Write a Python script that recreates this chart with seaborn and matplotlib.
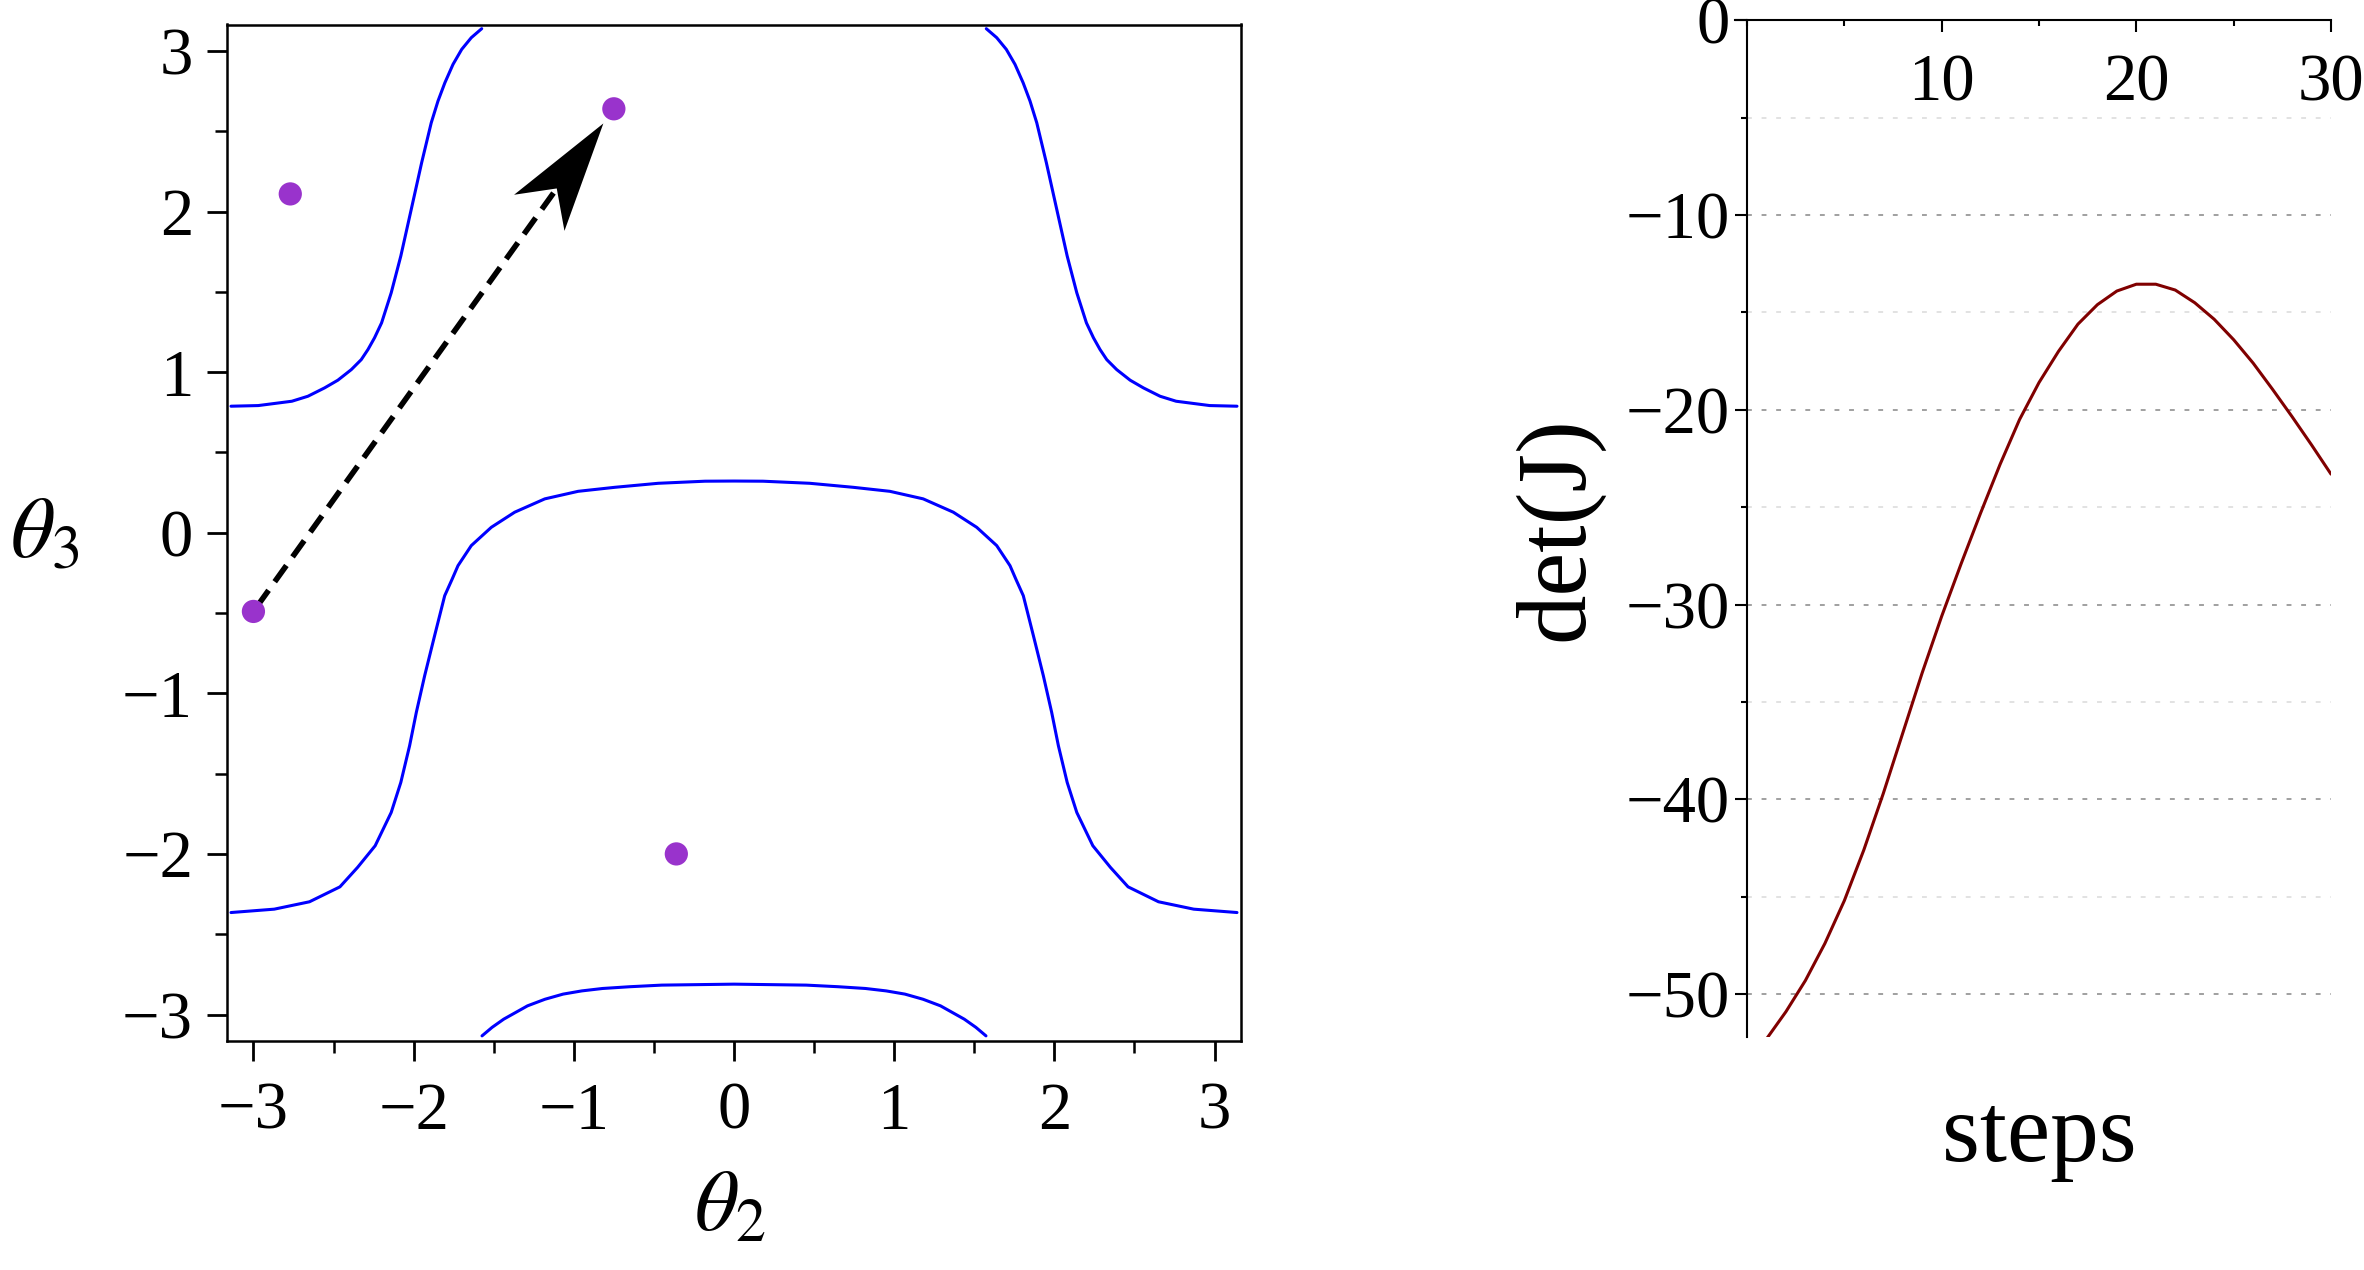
import numpy as np
import matplotlib
matplotlib.use("Agg")
import matplotlib.pyplot as plt
from matplotlib.ticker import MultipleLocator
import seaborn as sns

# ---------------- left panel: det(J)=0 curves in the (theta2, theta3) plane
top_left_t2 = [-3.14, -2.97, -2.76, -2.66, -2.556, -2.473, -2.389, -2.327, -2.285, -2.244, -2.20, -2.14,
               -2.08, -2.015, -1.95, -1.89, -1.848, -1.805, -1.754, -1.70, -1.64, -1.575]
top_left_t3 = [0.788, 0.792, 0.819, 0.85, 0.902, 0.95, 1.016, 1.078, 1.141, 1.214, 1.307, 1.494,
               1.723, 2.013, 2.304, 2.553, 2.688, 2.802, 2.917, 3.010, 3.083, 3.139]

top_right_t2 = [1.575, 1.64, 1.70, 1.754, 1.805, 1.848, 1.89, 1.95, 2.015, 2.08, 2.14, 2.20, 2.244,
                2.285, 2.327, 2.389, 2.473, 2.556, 2.66, 2.76, 2.97, 3.14]
top_right_t3 = [3.139, 3.083, 3.010, 2.917, 2.802, 2.688, 2.553, 2.304, 2.013, 1.723, 1.494, 1.307, 1.214,
                1.141, 1.078, 1.016, 0.95, 0.902, 0.85, 0.819, 0.792, 0.788]

mid_t2 = [-3.14, -2.87, -2.65, -2.46, -2.35, -2.24, -2.14, -2.08, -2.025, -1.983, -1.931, -1.869, -1.806,
          -1.76, -1.723, -1.64, -1.515, -1.369, -1.181, -0.973, -0.744, -0.473, -0.181, 0.0,
          0.181, 0.473, 0.744, 0.973, 1.181, 1.369, 1.515, 1.64, 1.723, 1.76, 1.806, 1.869, 1.931,
          1.983, 2.025, 2.08, 2.14, 2.24, 2.35, 2.46, 2.65, 2.87, 3.14]
mid_t3 = [-2.365, -2.344, -2.298, -2.205, -2.084, -1.949, -1.742, -1.555, -1.326, -1.118, -0.890, -0.641, -0.392,
          -0.29, -0.205, -0.080, 0.034, 0.128, 0.211, 0.258, 0.283, 0.308, 0.321, 0.322,
          0.321, 0.308, 0.283, 0.258, 0.211, 0.128, 0.034, -0.080, -0.205, -0.29, -0.392, -0.641, -0.890,
          -1.118, -1.326, -1.555, -1.742, -1.949, -2.084, -2.205, -2.298, -2.344, -2.365]

bottom_t2 = [-1.573, -1.51, -1.4375, -1.289, -1.18, -1.067, -0.95, -0.821, -0.65, -0.451, 0.0,
             0.451, 0.65, 0.821, 0.95, 1.067, 1.18, 1.289, 1.4375, 1.51, 1.573]
bottom_t3 = [-3.133, -3.08, -3.029, -2.946, -2.905, -2.873, -2.853, -2.838, -2.827, -2.817, -2.811,
             -2.817, -2.827, -2.838, -2.853, -2.873, -2.905, -2.946, -3.029, -3.08, -3.133]

# configurations (start of the path is the first, its end the third)
dot_t2 = [-3.0, -2.77, -0.75, -0.36]
dot_t3 = [-0.49, 2.11, 2.64, -2.0]

# ---------------- right panel: det(J) along the path
steps = list(range(1, 31))
detj = [-52.3, -50.9, -49.3, -47.4, -45.2, -42.6, -39.7, -36.6, -33.5, -30.6,
        -27.9, -25.3, -22.8, -20.5, -18.6, -17.0, -15.6, -14.6, -13.9, -13.55,
        -13.55, -13.85, -14.5, -15.35, -16.4, -17.6, -18.95, -20.35, -21.8, -23.3]

sns.set_theme(style="ticks")
plt.rcParams["font.family"] = ["Liberation Serif", "DejaVu Serif"]
plt.rcParams["mathtext.fontset"] = "stix"
plt.rcParams["axes.edgecolor"] = "black"
plt.rcParams["xtick.color"] = "black"
plt.rcParams["ytick.color"] = "black"
plt.rcParams["text.color"] = "black"
plt.rcParams["axes.labelcolor"] = "black"
plt.rcParams["axes.unicode_minus"] = True

W, H = 2364, 1270
fig = plt.figure(figsize=(W / 100, H / 100), dpi=100)
ax1 = fig.add_axes([227 / W, 1 - 1041 / H, 1014 / W, 1016.5 / H])
ax2 = fig.add_axes([1747 / W, 1 - 1037 / H, 584 / W, 1016.7 / H])

# ---- left
for xs, ys in [(top_left_t2, top_left_t3), (top_right_t2, top_right_t3),
               (mid_t2, mid_t3), (bottom_t2, bottom_t3)]:
    sns.lineplot(x=xs, y=ys, ax=ax1, sort=False, estimator=None, color="#0000ff", lw=2.2)

lim = 3.165
ax1.set_xlim(-lim, lim)
ax1.set_ylim(-lim, lim)

# dashed arrow from first to third configuration, stealth-like head
p0 = ax1.transData.transform((dot_t2[0], dot_t3[0]))
p1 = ax1.transData.transform((dot_t2[2], dot_t3[2]))
u = (p1 - p0) / np.hypot(*(p1 - p0))
n = np.array([-u[1], u[0]])
tip = p1 - 18 * u
notch = tip - 80 * u
head = np.array([tip, tip - 110 * u + 31 * n, notch, tip - 110 * u - 31 * n])
inv = ax1.transData.inverted()
head_d = inv.transform(head)
shaft = inv.transform(np.array([p0 + 6 * u, notch + 4 * u]))
ax1.plot(shaft[:, 0], shaft[:, 1], color="black", lw=4.0,
         linestyle=(0, (3.6, 1.9)), dash_capstyle="butt", zorder=3)
ax1.fill(head_d[:, 0], head_d[:, 1], color="black", lw=0, zorder=4)

sns.scatterplot(x=dot_t2, y=dot_t3, ax=ax1, color="#9933cc", s=280,
                edgecolor="none", linewidth=0, zorder=5)

ax1.set_xticks(range(-3, 4))
ax1.set_yticks(range(-3, 4))
ax1.xaxis.set_minor_locator(MultipleLocator(0.5))
ax1.yaxis.set_minor_locator(MultipleLocator(0.5))
ax1.tick_params(which="major", direction="out", length=14.4, width=2.0, labelsize=48)
ax1.tick_params(which="minor", direction="out", length=8.6, width=1.8)
ax1.tick_params(axis="x", which="major", pad=15)
ax1.tick_params(axis="y", which="major", pad=10)
ax1.tick_params(top=False, right=False, which="both")
for s in ax1.spines.values():
    s.set_linewidth(1.8)

ax1.set_xlabel(r"$\theta_2$", fontsize=62)
ax1.xaxis.set_label_coords(0.4956, -0.166)
ax1.xaxis.label.set_va("center")
ax1.set_ylabel(r"$\theta_3$", fontsize=62, rotation=0)
ax1.yaxis.set_label_coords(-0.18, 0.496)
ax1.yaxis.label.set_va("center")
ax1.yaxis.label.set_ha("center")

# ---- right
sns.lineplot(x=steps, y=detj, ax=ax2, color="#800000", lw=2.2, zorder=3)
ax2.set_xlim(0, 30)
ax2.set_ylim(-52.2, 0)
ax2.spines["top"].set_visible(False)
ax2.spines["right"].set_visible(False)
ax2.spines["bottom"].set_position(("data", 0))
ax2.spines["bottom"].set_bounds(-0.6, 30)
for s in ax2.spines.values():
    s.set_linewidth(1.5)

ax2.set_xticks([10, 20, 30])
ax2.xaxis.set_minor_locator(MultipleLocator(5))
ax2.set_yticks(range(-50, 1, 10))
ax2.yaxis.set_minor_locator(MultipleLocator(5))
ax2.tick_params(which="major", direction="out", length=8.6, width=1.5, labelsize=48)
ax2.tick_params(which="minor", direction="out", length=4.5, width=1.5)
ax2.tick_params(axis="x", which="major", pad=15)
ax2.tick_params(axis="y", which="major", pad=4)

ax2.set_axisbelow(True)
ax2.yaxis.grid(True, which="major", color="#a0a0a0", lw=1.4, linestyle=(0, (2.5, 5)))
ax2.yaxis.grid(True, which="minor", color="#e2e2e2", lw=1.4, linestyle=(0, (2.5, 5)))
ax2.xaxis.grid(False)

ax2.set_ylabel("det(J)", fontsize=71)
ax2.yaxis.set_label_coords(-0.3236, 0.5)
ax2.yaxis.label.set_va("center")
ax2.set_xlabel("steps", fontsize=70)
ax2.xaxis.set_label_coords(0.5, -0.0993)
ax2.xaxis.label.set_va("center")

fig.savefig("out.png", dpi=100, facecolor="white")
